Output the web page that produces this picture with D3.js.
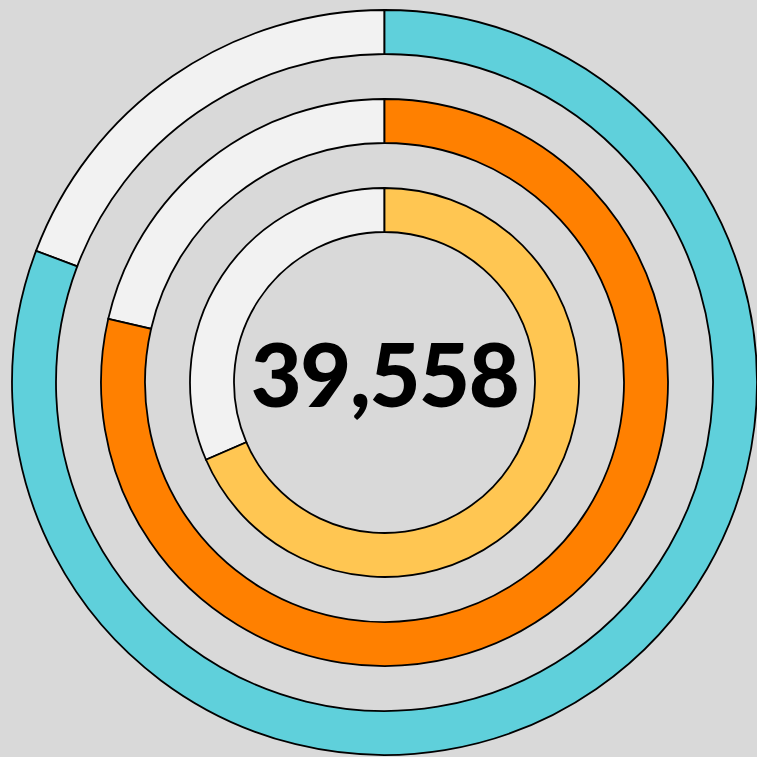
<!DOCTYPE html>
<html>
<head>
<meta charset="utf-8">
<script src="https://cdn.jsdelivr.net/npm/d3@7"></script>
<style>
  html, body { margin: 0; padding: 0; background: #d9d9d9; }
  svg { display: block; }
</style>
</head>
<body>
<div id="chart"></div>
<script>
var svgWidth = 757;
var svgHeight = 757;

// ring data, outer to inner (percent complete)
var rings = ["outer", "middle", "inner"];
var ringValues = [80.75, 78.6, 68.5];
var ringColors = ["#5fd0db", "#ff8000", "#ffc652"];
var centerLabel = "39,558";

var cx = 384.5;
var cy = 382.5;
var ringWidth = 44;

var svg = d3.select("#chart")
  .append("svg")
  .attr("width", svgWidth)
  .attr("height", svgHeight);

svg.append("rect")
  .attr("width", svgWidth)
  .attr("height", svgHeight)
  .attr("fill", "#d9d9d9");

var chartGroup = svg.append("g")
  .attr("transform", `translate(${cx}, ${cy})`);

// angle scale: percent -> radians
var angle = d3.scaleLinear()
  .domain([0, 100])
  .range([0, 2 * Math.PI]);

// outer radius of each ring
var outerR = d3.scaleOrdinal()
  .domain(rings)
  .range([372.5, 283.5, 194.5]);

var arc = d3.arc()
  .innerRadius(d => outerR(d.ring) - ringWidth)
  .outerRadius(d => outerR(d.ring));

var ringData = rings.map((r, i) => ({ ring: r, value: ringValues[i], color: ringColors[i] }));

// background tracks
chartGroup.selectAll(".track")
  .data(ringData)
  .enter()
  .append("path")
  .attr("class", "track")
  .attr("d", d => arc({ ring: d.ring, startAngle: angle(d.value), endAngle: angle(100) }))
  .attr("fill", "#f2f2f2")
  .attr("stroke", "#000")
  .attr("stroke-width", 1.8);

// value arcs
chartGroup.selectAll(".bar")
  .data(ringData)
  .enter()
  .append("path")
  .attr("class", "bar")
  .attr("d", d => arc({ ring: d.ring, startAngle: angle(0), endAngle: angle(d.value) }))
  .attr("fill", d => d.color)
  .attr("stroke", "#000")
  .attr("stroke-width", 1.8);

chartGroup.append("text")
  .attr("x", 0)
  .attr("y", 0)
  .attr("dy", "0.28em")
  .attr("text-anchor", "middle")
  .attr("font-family", "Lato, sans-serif")
  .attr("font-weight", 900)
  .attr("font-size", "88px")
  .attr("letter-spacing", "-1.4px")
  .attr("fill", "#000")
  .text(centerLabel);
</script>
</body>
</html>
